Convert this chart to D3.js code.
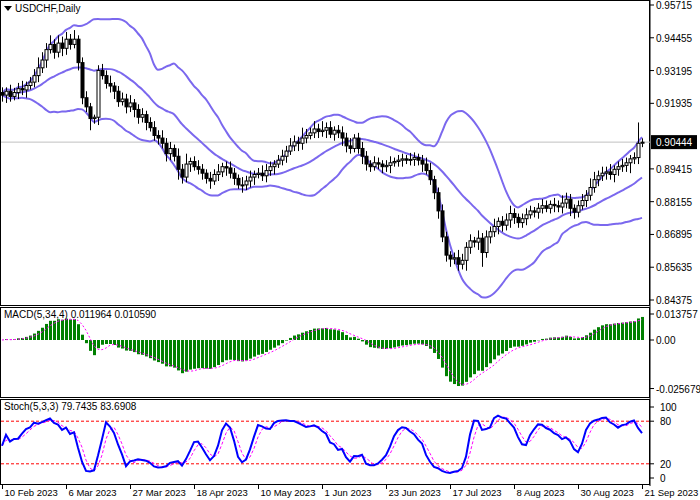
<!DOCTYPE html>
<html><head><meta charset="utf-8">
<script src="https://cdn.jsdelivr.net/npm/d3@7"></script>
<style>body{margin:0;background:#fff}text{font-family:"Liberation Sans",Arial,sans-serif;font-size:10px}text.date{font-size:9.5px}</style>
</head><body><svg id="c" width="700" height="500"></svg>
<script>
// daily closes, 10 Feb 2023 .. 21 Sep 2023
var closes = [0.9225,0.9240,0.9220,0.9235,0.9250,0.9245,0.9262,0.9275,0.9300,0.9330,
  0.9360,0.9400,0.9420,0.9390,0.9425,0.9405,0.9440,0.9420,0.9440,0.9350,
  0.9215,0.9180,0.9135,0.9140,0.9320,0.9300,0.9270,0.9260,0.9240,0.9200,
  0.9210,0.9180,0.9195,0.9170,0.9140,0.9150,0.9120,0.9100,0.9070,0.9060,
  0.9040,0.9000,0.9020,0.8990,0.8940,0.8910,0.8960,0.8970,0.8950,0.8940,
  0.8925,0.8905,0.8895,0.8920,0.8930,0.8950,0.8945,0.8925,0.8905,0.8880,
  0.8880,0.8895,0.8910,0.8920,0.8925,0.8915,0.8935,0.8950,0.8960,0.8975,
  0.8990,0.9010,0.9030,0.9045,0.9040,0.9060,0.9070,0.9080,0.9095,0.9085,
  0.9090,0.9100,0.9075,0.9090,0.9080,0.9060,0.9030,0.9020,0.9060,0.9020,
  0.8990,0.8960,0.8950,0.8965,0.8960,0.8950,0.8955,0.8965,0.8970,0.8975,
  0.8980,0.8975,0.8978,0.8985,0.8975,0.8960,0.8935,0.8900,0.8850,0.8780,
  0.8680,0.8610,0.8595,0.8600,0.8575,0.8590,0.8640,0.8665,0.8660,0.8675,
  0.8620,0.8680,0.8700,0.8720,0.8740,0.8725,0.8745,0.8770,0.8755,0.8735,
  0.8750,0.8765,0.8780,0.8775,0.8790,0.8800,0.8790,0.8805,0.8800,0.8795,
  0.8810,0.8825,0.8790,0.8775,0.8800,0.8820,0.8840,0.8870,0.8900,0.8915,
  0.8925,0.8930,0.8920,0.8940,0.8950,0.8955,0.8965,0.8980,0.8985,0.9040,0.9044];
// wick sizes above / below the body, in pips
var hiPips = [20,15,25,18,22,30,15,20,25,40, 30,25,35,20,30,25,28,20,35,15,
  20,25,15,10,20,25,20,30,15,20, 25,20,30,15,20,25,15,20,25,20,
  30,20,25,15,30,20,40,15,20,25, 20,15,25,20,30,15,20,25,20,15,
  30,20,25,15,20,30,25,20,15,20, 25,20,30,25,20,40,25,20,30,20,
  35,20,25,15,20,25,20,30,15,20, 25,20,15,25,20,15,20,25,15,20,
  20,15,25,20,15,20,25,30,15,20, 25,20,15,20,30,25,20,25,15,30,
  20,25,20,30,15,20,25,30,20,15, 20,25,20,15,20,25,20,15,25,20,
  30,25,20,15,20,25,20,35,30,20, 25,20,30,15,20,25,20,15,20,80,15];
var loPips = [25,30,20,15,25,20,30,15,20,25, 20,30,15,25,20,30,25,20,15,30,
  25,20,45,20,30,15,20,25,30,20, 15,25,20,30,25,20,30,15,20,25,
  20,30,25,20,40,25,20,30,15,20, 25,20,30,15,25,20,30,20,25,15,
  30,20,25,30,15,20,25,20,30,15, 20,25,15,20,30,25,20,15,20,25,
  20,30,15,25,20,30,25,20,15,20, 30,25,20,15,20,25,20,30,15,20,
  25,15,20,25,20,30,15,20,25,30, 20,25,30,20,25,20,40,25,20,30,
  55,20,25,20,30,25,20,30,25,20, 20,25,15,20,25,20,15,20,25,20,
  25,20,30,25,20,15,25,20,20,25, 20,25,20,30,25,20,25,40,20,25,15];
var priceTicks = [0.95715,0.94455,0.93195,0.91935,0.90675,0.89415,0.88155,0.86895,0.85635,0.84375];
var lastPrice = 0.90444;
var dateLabels = ["10 Feb 2023","6 Mar 2023","27 Mar 2023","18 Apr 2023","10 May 2023","1 Jun 2023",
  "23 Jun 2023","17 Jul 2023","8 Aug 2023","30 Aug 2023","21 Sep 2023"];
var dateIdx = [0,16,32,48,64,80,96,112,128,144,160];

var svg = d3.select("#c");
var PW = 650;
var x = d3.scaleLinear().domain([0, 160]).range([2, 642]);
var yP = d3.scaleLinear().domain([0.84375, 0.95715]).range([300, 5]);
var yM = d3.scaleLinear().domain([0, 0.013757]).range([340, 314]);
var yS = d3.scaleLinear().domain([0, 100]).range([478, 407]);

var opens = closes.map((c, i) => i ? closes[i-1] : c + 0.0010);
var highs = closes.map((c, i) => Math.max(c, opens[i]) + (hiPips[i] || 20) / 10000);
var lows = closes.map((c, i) => Math.min(c, opens[i]) - (loPips[i] || 20) / 10000);

// bollinger bands (20, 2)
var bb = closes.map((c, i) => {
  var w = closes.slice(Math.max(0, i - 19), i + 1);
  var m = d3.mean(w), s = Math.sqrt(d3.mean(w, v => (v - m) * (v - m)));
  return {m: m, u: m + 2 * s, l: m - 2 * s};
});
// MACD (5,34,4)
function ema(a, p) { var k = 2 / (p + 1), o = [], e = a[0]; a.forEach(v => { e = e + k * (v - e); o.push(e); }); return o; }
var e5 = ema(closes, 5), e34 = ema(closes, 34);
var macd = closes.map((c, i) => e5[i] - e34[i]);
var sig = macd.map((c, i) => d3.mean(macd.slice(Math.max(0, i - 3), i + 1)));
// stochastic (5,3,3)
var num = [], den = [];
closes.forEach((c, i) => {
  var hh = d3.max(highs.slice(Math.max(0, i - 4), i + 1)), ll = d3.min(lows.slice(Math.max(0, i - 4), i + 1));
  num.push(c - ll); den.push(hh - ll);
});
var stK = closes.map((c, i) => 100 * d3.sum(num.slice(Math.max(0, i - 2), i + 1)) / d3.sum(den.slice(Math.max(0, i - 2), i + 1)));
var stD = stK.map((c, i) => d3.mean(stK.slice(Math.max(0, i - 2), i + 1)));

// panels
[[0, 305], [307, 397], [399, 484]].forEach(p => {
  svg.append("rect").attr("x", 0.5).attr("y", p[0] + 0.5).attr("width", PW - 1).attr("height", p[1] - p[0])
    .attr("fill", "none").attr("stroke", "#000");
});
svg.append("line").attr("x1", PW).attr("x2", PW).attr("y1", 0).attr("y2", 486).attr("stroke", "#000");

var main = svg.append("g");
main.append("line").attr("x1", 1).attr("x2", PW).attr("y1", yP(lastPrice)).attr("y2", yP(lastPrice)).attr("stroke", "#c0c0c0");

var band = k => d3.line().x((d, i) => x(i)).y(d => yP(d[k])).curve(d3.curveMonotoneX);
["u", "m", "l"].forEach(k => main.append("path").attr("d", band(k)(bb)).attr("fill", "none")
  .attr("stroke", "#7b68ee").attr("stroke-width", 2));

closes.forEach((c, i) => {
  var cx = Math.round(x(i)) + 0.5;
  main.append("line").attr("x1", cx).attr("x2", cx).attr("y1", yP(highs[i])).attr("y2", yP(lows[i])).attr("stroke", "#000");
  var top = yP(Math.max(c, opens[i])), bot = yP(Math.min(c, opens[i]));
  main.append("rect").attr("x", cx - 1.5).attr("y", top).attr("width", 3).attr("height", Math.max(1, bot - top))
    .attr("fill", c >= opens[i] ? "#fff" : "#000").attr("stroke", "#000").attr("stroke-width", 1);
});

var ax = svg.append("g").attr("transform", "translate(" + PW + ",0)");
priceTicks.forEach(t => {
  if (Math.abs(yP(t) - yP(lastPrice)) < 10) return;
  ax.append("line").attr("x1", 0).attr("x2", 4).attr("y1", yP(t)).attr("y2", yP(t)).attr("stroke", "#000");
  ax.append("text").attr("x", 6).attr("y", yP(t) + 4).text(t.toFixed(5));
});
ax.append("rect").attr("x", 1).attr("y", yP(lastPrice) - 7).attr("width", 46).attr("height", 14).attr("fill", "#000");
ax.append("text").attr("x", 6).attr("y", yP(lastPrice) + 4).attr("fill", "#fff").text(lastPrice.toFixed(5));

svg.append("path").attr("d", "M4,6 L12,6 L8,11 Z").attr("fill", "#000");
svg.append("text").attr("x", 15).attr("y", 12).text("USDCHF,Daily");

// MACD panel
svg.append("g").selectAll("rect").data(macd).join("rect")
  .attr("x", (d, i) => Math.round(x(i)) - 1).attr("width", 3)
  .attr("y", d => Math.min(yM(d), yM(0))).attr("height", d => Math.abs(yM(d) - yM(0)))
  .attr("fill", "#008000");
svg.append("path").attr("d", d3.line().x((d, i) => x(i)).y(d => yM(d))(sig))
  .attr("fill", "none").attr("stroke", "#ff00ff").attr("stroke-dasharray", "2,2");
svg.append("text").attr("x", 4).attr("y", 318).text("MACD(5,34,4) 0.011964 0.010590");
[0.013757, 0, -0.025679].forEach(t => {
  ax.append("line").attr("x1", 0).attr("x2", 4).attr("y1", yM(t)).attr("y2", yM(t)).attr("stroke", "#000");
  ax.append("text").attr("x", 6).attr("y", yM(t) + 4).text(t === 0 ? "0.00" : String(t));
});

// stochastic panel
[80, 20].forEach(v => svg.append("line").attr("x1", 1).attr("x2", PW).attr("y1", yS(v)).attr("y2", yS(v))
  .attr("stroke", "#ff0000").attr("stroke-dasharray", "3,2"));
svg.append("path").attr("d", d3.line().x((d, i) => x(i)).y(d => yS(d))(stD))
  .attr("fill", "none").attr("stroke", "#ff00ff").attr("stroke-dasharray", "3,2");
svg.append("path").attr("d", d3.line().x((d, i) => x(i)).y(d => yS(d))(stK))
  .attr("fill", "none").attr("stroke", "#0000ff").attr("stroke-width", 2);
svg.append("text").attr("x", 4).attr("y", 410).text("Stoch(5,3,3) 79.7435 83.6908");
[100, 80, 20, 0].forEach(t => {
  ax.append("line").attr("x1", 0).attr("x2", 4).attr("y1", yS(t)).attr("y2", yS(t)).attr("stroke", "#000");
  ax.append("text").attr("x", 10).attr("y", yS(t) + 4).text(t);
});

// date axis
dateIdx.forEach((d, k) => {
  var px = Math.round(x(d)) + 0.5;
  svg.append("line").attr("x1", px).attr("x2", px).attr("y1", 484).attr("y2", 489).attr("stroke", "#000");
  svg.append("text").attr("class", "date").attr("x", px + 2).attr("y", 496).text(dateLabels[k]);
});
</script></body></html>
